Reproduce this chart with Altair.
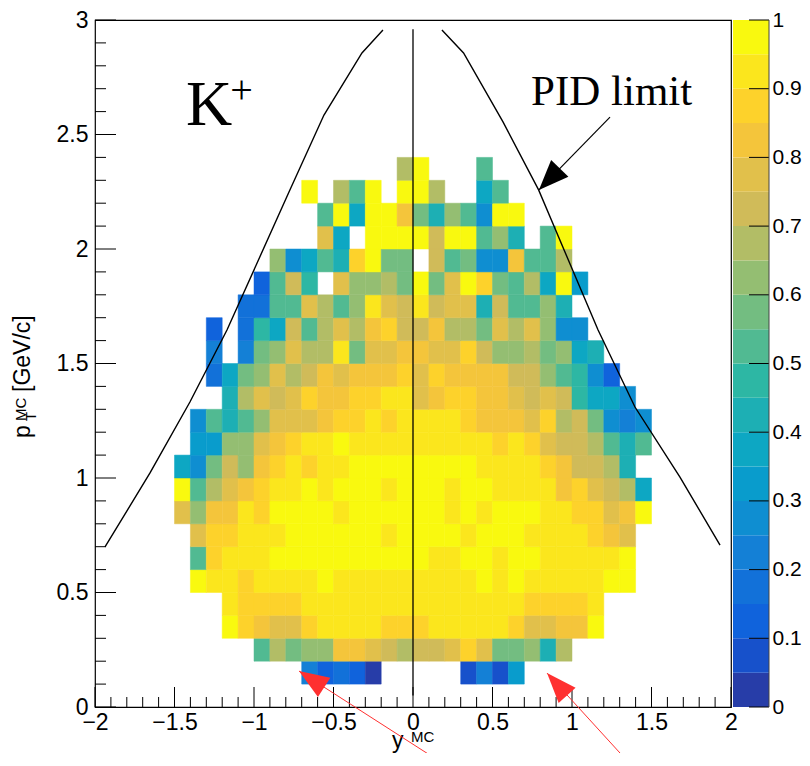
import altair as alt
import pandas as pd
import numpy as np

# ---------------- data ----------------
# Efficiency map: cells 0.1 (y_MC) x 0.1 (pT). Each row: pT bin j (pT = 0.1*j .. 0.1*j+0.1),
# first y bin k (y = -2 + 0.1*k), then the cell values (None = empty cell)
row01 = [0.22, 0.12, 0.17, 0.12, 0.02, None, None, None, None, None, 0.07, 0.22, 0.07, 0.32]
row02 = [0.52, 0.67, 0.57, 0.62, 0.62, 0.82, 0.82, 0.77, 0.72, 0.67, 0.72, 0.72, 0.77, 0.87, 0.77, 0.57, 0.57, 0.62, 0.42, 0.67]
row03 = [0.97, 0.87, 0.82, 0.77, 0.77, 0.87, 0.93, 0.93, 0.93, 0.93, 0.87, 0.87, 0.87, 0.93, 0.93, 0.93, 0.93, 0.93, 0.87, 0.77, 0.77, 0.82, 0.82, 0.97]
row04 = [0.93, 0.87, 0.87, 0.87, 0.87, 0.93, 0.93, 0.93, 0.93, 0.93, 0.93, 0.93, 0.93, 0.93, 0.93, 0.93, 0.93, 0.93, 0.93, 0.87, 0.87, 0.87, 0.87, 0.93]
row05 = [0.97, 0.93, 0.93, 0.87, 0.93, 0.93, 0.93, 0.93, 0.97, 0.93, 0.93, 0.93, 0.93, 0.93, 0.93, 0.93, 0.93, 0.93, 0.97, 0.93, 0.97, 0.93, 0.93, 0.93, 0.93, 0.93, 0.97, 0.97]
row06 = [0.52, 0.87, 0.93, 0.93, 0.93, 0.97, 0.97, 0.97, 0.97, 0.97, 0.97, 0.97, 0.97, 0.97, 0.97, 0.93, 0.93, 0.97, 0.97, 0.93, 0.97, 0.97, 0.93, 0.93, 0.93, 0.93, 0.93, 0.97]
row07 = [0.77, 0.87, 0.87, 0.93, 0.93, 0.93, 0.97, 0.97, 0.97, 0.97, 0.97, 0.97, 0.93, 0.97, 0.97, 0.97, 0.97, 0.93, 0.97, 0.97, 0.97, 0.93, 0.93, 0.93, 0.93, 0.87, 0.82, 0.77]
row08 = [0.77, 0.62, 0.82, 0.82, 0.93, 0.87, 0.97, 0.97, 0.97, 0.97, 0.93, 0.97, 0.97, 0.97, 0.97, 0.97, 0.97, 0.93, 0.97, 0.93, 0.97, 0.97, 0.97, 0.93, 0.93, 0.87, 0.87, 0.77, 0.82, 0.97]
row09 = [0.97, 0.52, 0.67, 0.77, 0.82, 0.87, 0.93, 0.93, 0.97, 0.93, 0.97, 0.97, 0.97, 0.93, 0.97, 0.97, 0.97, 0.93, 0.97, 0.97, 0.93, 0.93, 0.93, 0.93, 0.82, 0.87, 0.77, 0.72, 0.67, 0.37]
row10 = [0.37, 0.27, 0.57, 0.72, 0.62, 0.82, 0.87, 0.93, 0.87, 0.93, 0.93, 0.97, 0.97, 0.97, 0.97, 0.97, 0.97, 0.97, 0.97, 0.93, 0.93, 0.93, 0.93, 0.87, 0.82, 0.72, 0.72, 0.67, 0.42]
row11 = [0.32, 0.32, 0.62, 0.62, 0.77, 0.82, 0.87, 0.93, 0.93, 0.97, 0.93, 0.93, 0.93, 0.93, 0.93, 0.93, 0.93, 0.93, 0.93, 0.87, 0.93, 0.87, 0.77, 0.72, 0.72, 0.67, 0.52, 0.42, 0.52]
row12 = [0.27, 0.52, 0.42, 0.52, 0.62, 0.77, 0.77, 0.77, 0.82, 0.87, 0.87, 0.93, 0.87, 0.93, 0.93, 0.93, 0.93, 0.87, 0.82, 0.82, 0.82, 0.77, 0.87, 0.67, 0.72, 0.57, 0.27, 0.22, 0.27]
row13 = [0.42, 0.67, 0.77, 0.72, 0.77, 0.87, 0.82, 0.82, 0.87, 0.87, 0.93, 0.93, 0.77, 0.82, 0.87, 0.87, 0.82, 0.82, 0.77, 0.72, 0.77, 0.72, 0.47, 0.37, 0.37, 0.27]
row14 = [0.17, 0.37, 0.57, 0.62, 0.77, 0.67, 0.72, 0.82, 0.77, 0.82, 0.82, 0.82, 0.87, 0.77, 0.87, 0.82, 0.82, 0.82, 0.82, 0.72, 0.72, 0.62, 0.52, 0.47, 0.27, 0.12]
row15 = [0.22, None, 0.22, 0.57, 0.62, 0.77, 0.67, 0.67, 0.93, 0.57, 0.77, 0.77, 0.82, 0.82, 0.77, 0.77, 0.87, 0.72, 0.62, 0.62, 0.67, 0.57, 0.62, 0.37, 0.42]
row16 = [0.12, None, 0.17, 0.47, 0.37, 0.72, 0.52, 0.67, 0.77, 0.67, 0.82, 0.87, 0.72, 0.72, 0.82, 0.67, 0.67, 0.57, 0.77, 0.67, 0.77, 0.62, 0.27, 0.27]
row17 = [0.17, 0.17, 0.52, 0.52, 0.77, 0.67, 0.52, 0.62, 0.93, 0.77, 0.72, 0.93, 0.72, 0.77, 0.77, 0.42, 0.72, 0.52, 0.52, 0.62, 0.42]
row18 = [0.12, 0.52, 0.72, 0.47, None, 0.77, 0.62, 0.62, 0.67, 0.57, 0.97, 0.57, 0.77, 0.97, 0.87, 0.57, 0.52, 0.67, 0.37, 0.97, 0.32]
row19 = [0.62, 0.27, 0.37, 0.52, 0.42, 0.87, 0.97, 0.57, 0.57, None, 0.72, 0.52, 0.57, 0.27, 0.27, 0.82, 0.52, 0.52, 0.67]
row20 = [0.77, 0.37, None, 0.97, 0.97, 0.97, 0.97, 0.72, 0.97, 0.97, 0.52, 0.62, 0.42, None, 0.52, 0.97]
row21 = [0.52, 0.97, 0.37, 0.97, 0.97, 0.82, 0.57, 0.42, 0.62, 0.52, 0.27, 0.97, 0.97]
row22 = [0.97, None, 0.67, 0.52, 0.97, None, 0.97, 0.97, 0.67, None, None, 0.37, 0.52]
row23 = [0.67, 0.97, None, None, None, 0.52]

rows = [(1, 13, row01), (2, 10, row02), (3, 8, row03), (4, 8, row04), (5, 6, row05),
        (6, 6, row06), (7, 6, row07), (8, 5, row08), (9, 5, row09), (10, 5, row10),
        (11, 6, row11), (12, 6, row12), (13, 8, row13), (14, 7, row14), (15, 7, row15),
        (16, 7, row16), (17, 9, row17), (18, 10, row18), (19, 11, row19), (20, 14, row20),
        (21, 14, row21), (22, 13, row22), (23, 19, row23)]

# PID limit curves (y_MC, pT)
pid_left_y = [-1.937, -1.654, -1.403, -1.170, -0.780, -0.560, -0.321, -0.189]
pid_left_pt = [0.699, 1.022, 1.332, 1.646, 2.249, 2.585, 2.856, 2.956]
pid_right_y = [0.182, 0.318, 0.566, 0.790, 1.164, 1.396, 1.679, 1.931]
pid_right_pt = [2.956, 2.856, 2.555, 2.258, 1.646, 1.310, 1.004, 0.707]

# axis tick labels
x_major = [-2, -1.5, -1, -0.5, 0, 0.5, 1, 1.5, 2]
y_major = [0, 0.5, 1, 1.5, 2, 2.5, 3]
z_labels = [0, 0.1, 0.2, 0.3, 0.4, 0.5, 0.6, 0.7, 0.8, 0.9, 1]

# ---------------- build tables ----------------
cells = []
for j, k0, vals in rows:
    for i, v in enumerate(vals):
        if v is None:
            continue
        k = k0 + i
        x0 = round(-2 + 0.1 * k, 2)
        y0 = round(0.1 * j, 2)
        cells.append({"x0": x0, "x1": round(x0 + 0.1, 2), "y0": y0, "y1": round(y0 + 0.1, 2), "v": v})
heat_df = pd.DataFrame(cells)

# ROOT kBird palette, 20 contour levels
stops = [0.0, 0.125, 0.25, 0.375, 0.5, 0.625, 0.75, 0.875, 1.0]
red = [0.2082, 0.0592, 0.0780, 0.0232, 0.1802, 0.5301, 0.8186, 0.9956, 0.9764]
green = [0.1664, 0.3599, 0.5041, 0.6419, 0.7178, 0.7492, 0.7328, 0.7862, 0.9832]
blue = [0.5293, 0.8684, 0.8385, 0.7914, 0.6425, 0.4662, 0.3499, 0.1968, 0.0539]
palette = []
for lev in range(20):
    t = int((lev + 0.99) * 255 / 20) / 255.0
    r, g, b = (np.interp(t, stops, c) for c in (red, green, blue))
    palette.append("#%02x%02x%02x" % (int(round(r * 255)), int(round(g * 255)), int(round(b * 255))))
thresholds = [round(0.05 * i, 2) for i in range(1, 20)]
cscale = alt.Scale(type="threshold", domain=thresholds, range=palette)

W, H = 636, 687
FONT = "Liberation Sans"

xs = alt.Scale(domain=[-2, 2], nice=False, zero=False)
ys = alt.Scale(domain=[0, 3], nice=False, zero=False)
xaxis = alt.Axis(values=x_major, format="~g", title=None, grid=False, ticks=False, tickSize=0,
                 domain=False, labelPadding=4, labelFlush=False, labelOverlap=False,
                 labelFont=FONT, labelFontSize=23, labelColor="black")
yaxis = alt.Axis(values=y_major, format="~g", title=None, grid=False, ticks=False, tickSize=0,
                 domain=False, labelPadding=7, labelFlush=False, labelOverlap=False,
                 labelFont=FONT, labelFontSize=23, labelColor="black")


def X(f):
    return alt.X(f, type="quantitative", scale=xs, axis=xaxis)


def Y(f):
    return alt.Y(f, type="quantitative", scale=ys, axis=yaxis)


heat = alt.Chart(heat_df).mark_rect(strokeWidth=0.5).encode(
    x=X("x0"), x2="x1", y=Y("y0"), y2="y1",
    color=alt.Color("v:Q", scale=cscale, legend=None),
    stroke=alt.Stroke("v:Q", scale=cscale, legend=None),
)

zero_df = pd.DataFrame({"x": [0], "ya": [0.05], "yb": [2.96]})
zero_line = alt.Chart(zero_df).mark_rule(color="black", strokeWidth=1.3).encode(
    x=X("x"), y=Y("ya"), y2="yb")

pidL = alt.Chart(pd.DataFrame({"x": pid_left_y, "y": pid_left_pt, "o": range(len(pid_left_y))})).mark_line(
    color="black", strokeWidth=1.4).encode(x=X("x"), y=Y("y"), order="o:Q")
pidR = alt.Chart(pd.DataFrame({"x": pid_right_y, "y": pid_right_pt, "o": range(len(pid_right_y))})).mark_line(
    color="black", strokeWidth=1.4).encode(x=X("x"), y=Y("y"), order="o:Q")

# black arrow to PID curve
arr_df = pd.DataFrame({"xa": [1.239], "ya": [2.576], "xb": [0.792], "yb": [2.258]})
arr_line = alt.Chart(arr_df).mark_rule(color="black", strokeWidth=1.2).encode(
    x=X("xa"), y=Y("ya"), x2="xb", y2="yb")
arr_head = alt.Chart(arr_df).mark_point(
    shape="M0,0L-0.4,1L0.4,1Z", filled=True, color="black", opacity=1, size=3600, angle=224, strokeWidth=0
).encode(x=X("xb"), y=Y("yb"))

# red annotation arrows
red_df = pd.DataFrame({"xt": [-0.717, 0.843], "yt": [0.157, 0.148], "xe": [0.214, 1.377], "ye": [-0.258, -0.258]})
red_lines = alt.Chart(red_df).mark_rule(color="#ff3030", strokeWidth=1).encode(
    x=X("xt"), y=Y("yt"), x2="xe", y2="ye")
red_h1 = alt.Chart(red_df.iloc[[0]]).mark_point(
    shape="M0,0L-0.38,1L0.38,1Z", filled=True, color="#ff3030", opacity=1, size=3600, angle=303, strokeWidth=0
).encode(x=X("xt"), y=Y("yt"))
red_h2 = alt.Chart(red_df.iloc[[1]]).mark_point(
    shape="M0,0L-0.38,1L0.38,1Z", filled=True, color="#ff3030", opacity=1, size=3600, angle=318, strokeWidth=0
).encode(x=X("xt"), y=Y("yt"))

# texts in data coordinates
k_txt = alt.Chart(pd.DataFrame({"x": [-1.428], "y": [2.541]})).mark_text(
    text="K", font="Liberation Serif", fontSize=64, align="left", baseline="alphabetic", color="black"
).encode(x=X("x"), y=Y("y"))
kp_txt = alt.Chart(pd.DataFrame({"x": [-1.150], "y": [2.638]})).mark_text(
    text="+", font="Liberation Serif", fontSize=40, align="left", baseline="alphabetic", color="black"
).encode(x=X("x"), y=Y("y"))
pid_txt = alt.Chart(pd.DataFrame({"x": [0.742], "y": [2.629]})).mark_text(
    text="PID limit", font="Liberation Serif", fontSize=43, align="left", baseline="alphabetic", color="black"
).encode(x=X("x"), y=Y("y"))

one = pd.DataFrame({"a": [0]})


def title_text(txt, px, py, size, angle=0):
    return alt.Chart(one).mark_text(
        text=txt, font=FONT, fontSize=size, align="left", baseline="alphabetic", color="black", angle=angle
    ).encode(x=alt.value(px), y=alt.value(py))


ytitle = [
    title_text("p", -65, 418, 23, 270),
    title_text("MC", -69, 401, 15, 270),
    title_text("T", -59, 401, 15, 270),
    title_text("[GeV/c]", -65, 372, 23, 270),
]
xtitle = [
    title_text("y", 297, 728, 23),
    title_text("MC", 316, 722, 15),
]

# inward ticks (ROOT style)
x_minor = [round(-2 + 0.1 * i, 1) for i in range(41)]
x_minor = [v for v in x_minor if v not in x_major]
y_minor = [round(0.1 * i, 1) for i in range(31)]
y_minor = [v for v in y_minor if v not in y_major]
xt_major = alt.Chart(pd.DataFrame({"t": x_major})).mark_rule(color="black", strokeWidth=1).encode(
    x=X("t"), y=alt.value(H), y2=alt.value(H - 20))
xt_minor = alt.Chart(pd.DataFrame({"t": x_minor})).mark_rule(color="black", strokeWidth=1).encode(
    x=X("t"), y=alt.value(H), y2=alt.value(H - 10))
yt_major = alt.Chart(pd.DataFrame({"t": y_major})).mark_rule(color="black", strokeWidth=1).encode(
    y=Y("t"), x=alt.value(0), x2=alt.value(21))
yt_minor = alt.Chart(pd.DataFrame({"t": y_minor})).mark_rule(color="black", strokeWidth=1).encode(
    y=Y("t"), x=alt.value(0), x2=alt.value(11))

main = alt.layer(heat, zero_line, pidL, pidR, arr_line, arr_head, k_txt, kp_txt, pid_txt,
                 xt_major, xt_minor, yt_major, yt_minor, *ytitle, *xtitle,
                 red_lines, red_h1, red_h2)

# colour bar
CB0, CB1 = W + 2, W + 38
cb_df = pd.DataFrame({"lo": [round(0.05 * i, 2) for i in range(20)],
                      "hi": [round(0.05 * (i + 1), 2) for i in range(20)],
                      "v": [round(0.05 * i + 0.025, 3) for i in range(20)]})
zs = alt.Scale(domain=[0, 1], nice=False, zero=False)
zaxis = alt.Axis(values=z_labels, format="~g", title=None, grid=False, ticks=False, tickSize=0,
                 domain=False, orient="right", offset=CB1 - W, labelPadding=3, labelFlush=False,
                 labelOverlap=False, labelFont=FONT, labelFontSize=21, labelColor="black")
cb_rect = alt.Chart(cb_df).mark_rect().encode(
    x=alt.value(CB0), x2=alt.value(CB1),
    y=alt.Y("lo:Q", scale=zs, axis=zaxis), y2="hi",
    color=alt.Color("v:Q", scale=cscale, legend=None))
cb_ticks = alt.Chart(pd.DataFrame({"t": z_labels})).mark_rule(color="black", strokeWidth=1).encode(
    y=alt.Y("t:Q", scale=zs, axis=zaxis), x=alt.value(CB1 - 20), x2=alt.value(CB1))
cb_edge = alt.Chart(one).mark_rule(color="#444444", strokeWidth=1).encode(
    x=alt.value(CB1), y=alt.value(0), y2=alt.value(H))
colorbar = alt.layer(cb_rect, cb_ticks, cb_edge)

chart = alt.layer(main, colorbar).resolve_scale(y="independent").properties(
    width=W, height=H,
    autosize=alt.AutoSizeParams(type="none"),
    padding={"left": 87, "top": 12, "right": 71, "bottom": 46},
    background="white",
).configure_view(stroke="black", strokeWidth=1.2)

chart.save("out.html", embed_options={"renderer": "svg", "actions": False})
